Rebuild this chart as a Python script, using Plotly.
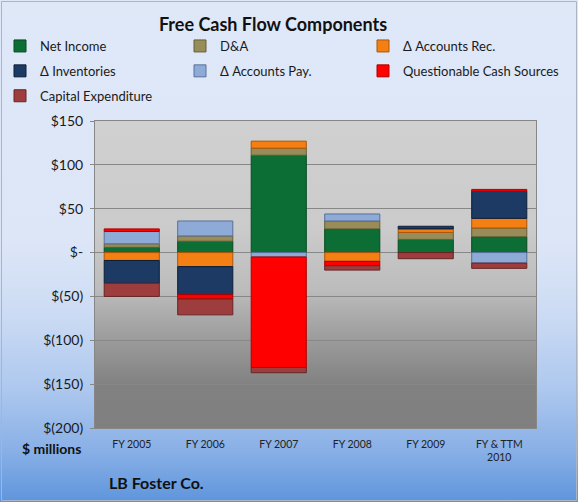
import base64
import plotly.graph_objects as go

# ---------------- data ($ millions); None = component not present ----------------
categories = ["FY 2005", "FY 2006", "FY 2007", "FY 2008", "FY 2009", "FY & TTM<br>2010"]
net_income = [6, 13, 111, 27, 15, 18]
d_and_a = [4, 6, 8, 9, 8, 10]
d_accounts_rec = [-9, -16, 8, -10, 4, 11]
d_inventories = [-26, -32, None, None, 3, 31]
d_accounts_pay = [14, 17, -5, 8, None, -12]
questionable = [3, -5, -126, -5, None, 2]
capex = [-15, -18, -6, -5, -7, -6]

y_tick_vals = [150, 100, 50, 0, -50, -100, -150, -200]
y_tick_text = ["$150", "$100", "$50", "$-", "$(50)", "$(100)", "$(150)", "$(200)"]

series = [
    ("Net Income", net_income, "#0c6e35", "#064a22", "legend"),
    ("D&A", d_and_a, "#988d58", "#665e38", "legend2"),
    ("Δ Accounts Rec.", d_accounts_rec, "#f47f13", "#a8560a", "legend3"),
    ("Δ Inventories", d_inventories, "#1c3a64", "#0d1e38", "legend"),
    ("Δ Accounts Pay.", d_accounts_pay, "#8eabd8", "#56709a", "legend2"),
    ("Questionable Cash Sources", questionable, "#ff0000", "#b00000", "legend3"),
    ("Capital Expenditure", capex, "#9e3d3d", "#682424", "legend"),
]

FONT = "Lato"
W, H = 578, 502
ML, MR, MT, MB = 95, 42, 121, 74
PW, PH = W - ML - MR, H - MT - MB


def grad(stops):
    s = "".join(f'<stop offset="{o}" stop-color="{c}"/>' for o, c in stops)
    svg = ('<svg xmlns="http://www.w3.org/2000/svg" width="100" height="100" '
           'viewBox="0 0 100 100" preserveAspectRatio="none"><defs>'
           f'<linearGradient id="g" x1="0" y1="0" x2="0" y2="1">{s}</linearGradient>'
           '</defs><rect width="100" height="100" fill="url(#g)"/></svg>')
    return "data:image/svg+xml;base64," + base64.b64encode(svg.encode()).decode()


paper_grad = grad([(0, "#dfe8f7"), (0.48, "#dce6f7"), (0.62, "#cddcf4"),
                   (0.78, "#acc7ee"), (0.9, "#88afe6"), (1, "#5e95dc")])
plot_grad = grad([(0, "#d0d0d0"), (0.35, "#cbcbcb"), (0.55, "#bcbcbc"),
                  (0.72, "#9a9a9a"), (0.86, "#818181"), (1, "#7f7f7f")])

fig = go.Figure()
for name, vals, color, edge, leg in series:
    fig.add_trace(go.Bar(
        name=name, x=categories, y=vals,
        marker=dict(color=color, line=dict(color=edge, width=1)),
        legend=leg, legendgroup=name,
    ))


def px_x(px):
    return (px - ML) / PW


def px_y(py):
    return 1 + (MT - py) / PH


legend_common = dict(
    orientation="v", xref="paper", yref="paper", xanchor="left", yanchor="top",
    bgcolor="rgba(0,0,0,0)", borderwidth=0, tracegroupgap=5,
    font=dict(family=FONT, size=13, color="#1a1a1a"),
)

fig.update_layout(
    width=W, height=H,
    margin=dict(l=ML, r=MR, t=MT, b=MB, autoexpand=False),
    barmode="relative", bargap=0.25,
    paper_bgcolor="#dfe8f7", plot_bgcolor="rgba(0,0,0,0)",
    font=dict(family=FONT, color="#1a1a1a"),
    title=dict(text="<b>Free Cash Flow Components</b>", xref="container", yref="container",
               x=273 / W, y=1 - 25 / H, xanchor="center", yanchor="middle",
               font=dict(family=FONT, size=18, color="#111111")),
    legend=dict(x=px_x(0), y=px_y(31), **legend_common),
    legend2=dict(x=px_x(180), y=px_y(31), **legend_common),
    legend3=dict(x=px_x(363), y=px_y(31), **legend_common),
    xaxis=dict(showgrid=False, showline=True, mirror=True, linecolor="#878787",
               tickfont=dict(family=FONT, size=10.5, color="#222222"), ticks="",
               ticklabelstandoff=6),
    yaxis=dict(range=[-200, 150], tickvals=y_tick_vals, ticktext=y_tick_text,
               showgrid=True, gridcolor="#878787", gridwidth=1,
               zeroline=True, zerolinecolor="#878787", zerolinewidth=1,
               showline=True, mirror=True, linecolor="#878787",
               ticks="outside", ticklen=4, tickcolor="#878787",
               ticklabelstandoff=4,
               tickfont=dict(family=FONT, size=14, color="#1a1a1a")),
    images=[
        dict(source=paper_grad, xref="paper", yref="paper", x=-ML / PW, y=1 + MT / PH,
             sizex=W / PW, sizey=H / PH, xanchor="left", yanchor="top",
             sizing="stretch", layer="below"),
        dict(source=plot_grad, xref="paper", yref="paper", x=0, y=1, sizex=1, sizey=1,
             xanchor="left", yanchor="top", sizing="stretch", layer="below"),
    ],
    shapes=[
        dict(type="rect", xref="paper", yref="paper",
             x0=(-ML + 1.5) / PW, x1=(W - ML - 1.5) / PW,
             y0=1 - (H - MT - 1.5) / PH, y1=1 + (MT - 1.5) / PH,
             line=dict(color="#a9b4c6", width=1), layer="below"),
    ],
    annotations=[
        dict(text="<b>$ millions</b>", xref="paper", yref="paper", x=px_x(51), y=px_y(448),
             xanchor="center", yanchor="middle", showarrow=False,
             font=dict(family=FONT, size=14, color="#111111")),
        dict(text="<b>LB Foster Co.</b>", xref="paper", yref="paper", x=px_x(156), y=px_y(482),
             xanchor="center", yanchor="middle", showarrow=False,
             font=dict(family=FONT, size=16, color="#111111")),
    ],
)

fig.write_html("out.html")
